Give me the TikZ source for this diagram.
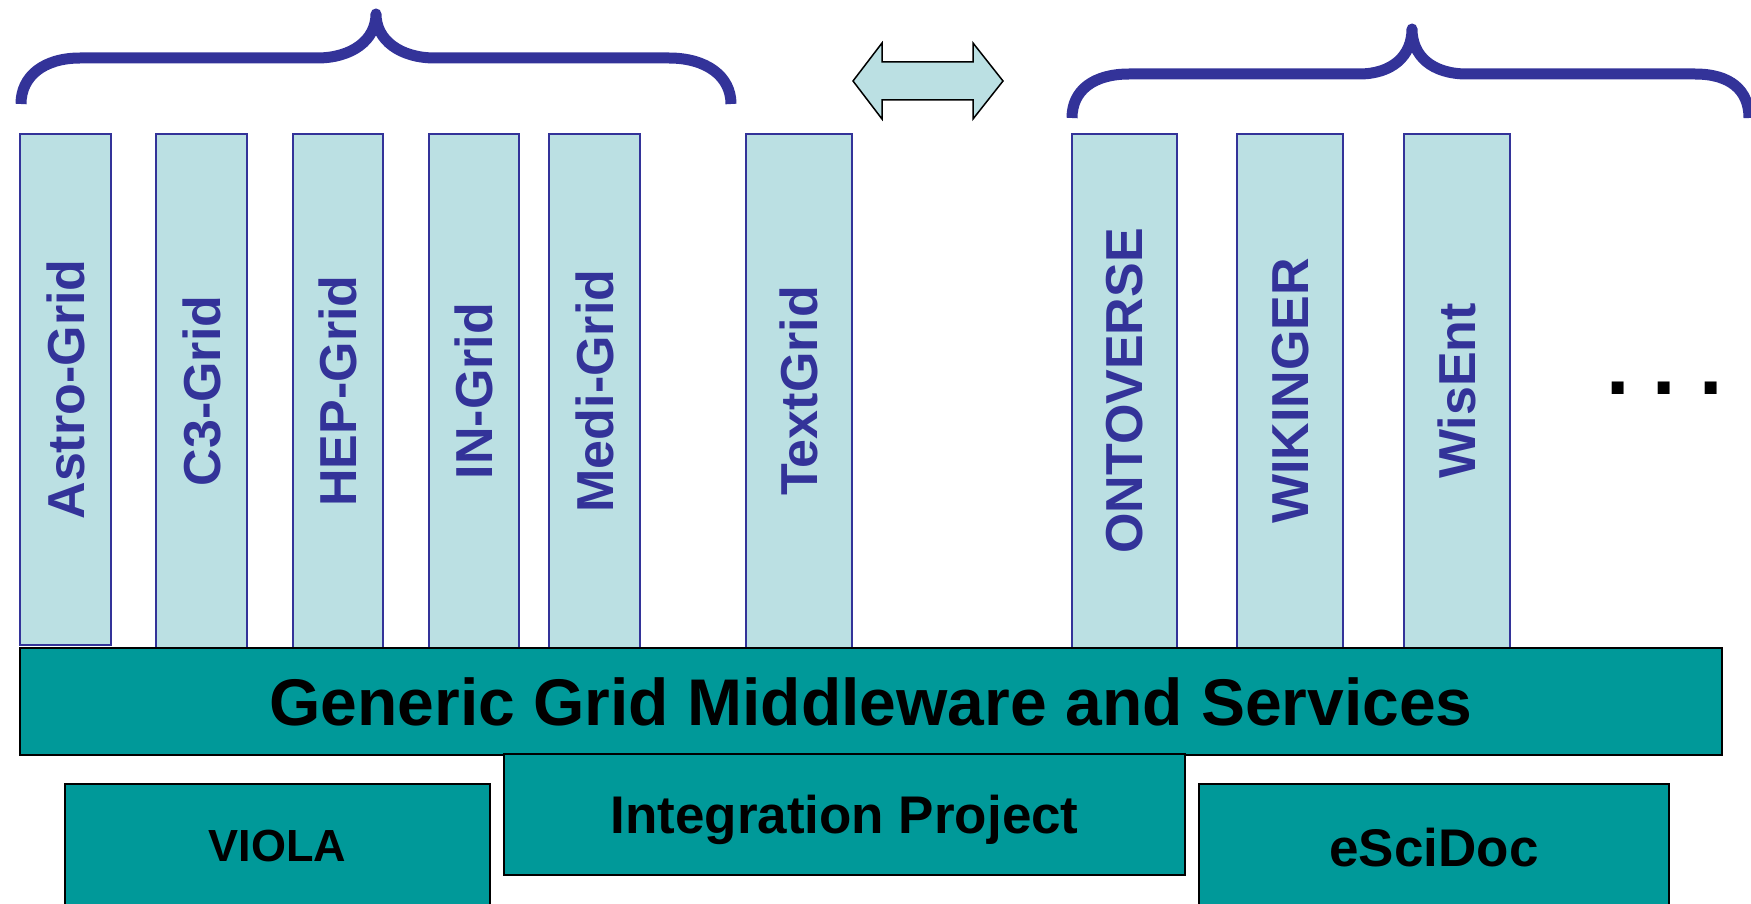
\documentclass[tikz,border=0pt]{standalone}
\usepackage{fontspec}
\setmainfont{Liberation Sans}
\usepackage{tikz}
\usetikzlibrary{positioning}
\definecolor{gridblue}{HTML}{333399}
\definecolor{gridpale}{HTML}{BBE0E3}
\definecolor{gridteal}{HTML}{009999}

\begin{document}
\begin{tikzpicture}[x=1pt, y=-1pt,
    project/.style={draw=gridblue, line width=2pt, fill=gridpale, rotate=90, inner sep=0pt, text=gridblue, font=\fontsize{52}{60}\selectfont\bfseries, text depth=0pt},
    layer/.style={draw=black, line width=2.2pt, fill=gridteal, inner sep=0pt, text depth=0pt},
    bracket/.style={draw=gridblue, line width=11pt, line join=round}]
    \useasboundingbox (0,0) rectangle (1751,904);
    \clip (0,0) rectangle (1751,904);

    \node[project, minimum width=511pt, minimum height=91pt] (astro) at (65.5,389.5) {Astro-Grid};
    \node[project, minimum width=514pt, minimum height=91pt] (cthree) at (201.5,391) {C3-Grid};
    \node[project, minimum width=514pt, minimum height=90pt] (hep) at (338,391) {HEP-Grid};
    \node[project, minimum width=514pt, minimum height=90pt] (ingrid) at (474,391) {IN-Grid};
    \node[project, minimum width=514pt, minimum height=91pt] (medi) at (594.5,391) {Medi-Grid};
    \node[project, minimum width=514pt, minimum height=106pt] (textgrid) at (799,391) {TextGrid};

    \node[project, minimum width=514pt, minimum height=105pt] (ontoverse) at (1124.5,391) {ONTOVERSE};
    \node[project, minimum width=514pt, minimum height=106pt] (wikinger) at (1290,391) {WIKINGER};
    \node[project, minimum width=514pt, minimum height=106pt] (wisent) at (1457,391) {WisEnt};
    \node[font=\fontsize{84}{90}\selectfont\bfseries, anchor=base, inner sep=0pt] (more) at (1664.5,394) {.\ .\ .};

    \node[layer, minimum width=1702pt, minimum height=107pt, font=\fontsize{66}{72}\selectfont\bfseries] (middleware) at (871,701.5) {Generic Grid Middleware and Services};

    \node[layer, minimum width=425pt, minimum height=124pt, font=\fontsize{45}{54}\selectfont\bfseries] (viola) at (277.5,846) {VIOLA};
    \node[layer, minimum width=681pt, minimum height=121pt, font=\fontsize{53}{60}\selectfont\bfseries] (integration) at (844.5,814.5) {Integration Project};
    \node[layer, minimum width=470pt, minimum height=126pt, font=\fontsize{53}{60}\selectfont\bfseries] (escidoc) at (1434,847) {eSciDoc};

    % braces over the two groups
    \draw[bracket] (21,104) .. controls (21,76) and (44,58) .. (80,58) -- (317,58)
        .. controls (352,58) and (376,40) .. (376,14)
        .. controls (376,40) and (400,58) .. (435,58) -- (669,58)
        .. controls (706,58) and (731,76) .. (731,104);
    \draw[bracket] (1072,118) .. controls (1072,90) and (1094,74) .. (1129,74) -- (1359,74)
        .. controls (1392,74) and (1412,56) .. (1412,29)
        .. controls (1412,56) and (1432,74) .. (1467,74) -- (1695,74)
        .. controls (1730,74) and (1749,90) .. (1749,118);

    % double arrow between the groups
    \draw[line width=1.5pt, fill=gridpale, line join=miter] (853,81) -- (882,43) -- (882,62) -- (973,62) -- (973,43)
        -- (1003,81) -- (973,119) -- (973,100) -- (882,100) -- (882,119) -- cycle;
\end{tikzpicture}
\end{document}
